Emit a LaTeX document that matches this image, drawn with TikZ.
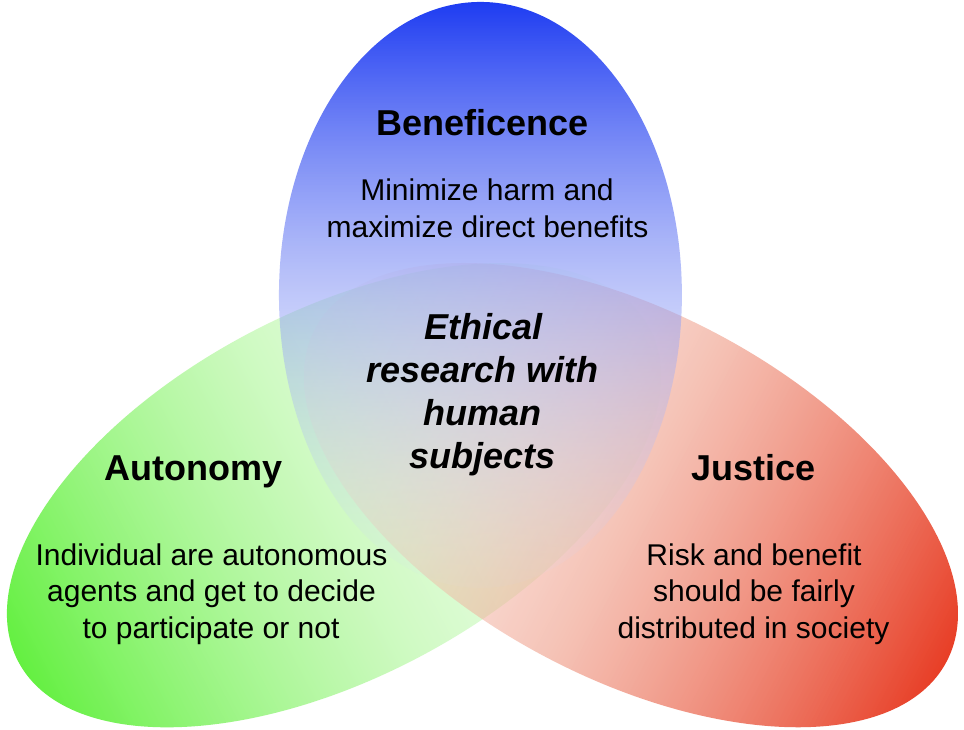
\documentclass[tikz,border=0pt]{standalone}
\usepackage{fontspec}
\setmainfont{Liberation Sans}
\usetikzlibrary{fadings}
\definecolor{bTop}{RGB}{30,60,242}
\definecolor{bMid}{RGB}{140,155,246}
\definecolor{bBot}{RGB}{215,222,255}
\definecolor{gOut}{RGB}{100,240,65}
\definecolor{gMid}{RGB}{180,248,160}
\definecolor{gIn}{RGB}{225,252,220}
\definecolor{rOut}{RGB}{232,62,38}
\definecolor{rMid}{RGB}{240,160,140}
\definecolor{rIn}{RGB}{248,215,205}
\tikzfading[name=fadeBlue, top color=transparent!0, bottom color=transparent!95, middle color=transparent!45]
\tikzfading[name=fadeGreen, left color=transparent!0, right color=transparent!85, middle color=transparent!38]
\tikzfading[name=fadeRed, left color=transparent!85, right color=transparent!0, middle color=transparent!38]
\begin{document}
\begin{tikzpicture}[x=1pt,y=-1pt,
  title/.style={font=\bfseries\fontsize{36}{43}\selectfont, anchor=base, inner sep=0pt},
  core/.style={font=\bfseries\itshape\fontsize{36}{43}\selectfont, anchor=base, inner sep=0pt},
  body/.style={font=\fontsize{30}{36}\selectfont, anchor=base, inner sep=0pt}]
\fill[white] (0,0) rectangle (964,730);
\useasboundingbox (0,0) rectangle (964,730);
% green (autonomy)
\begin{scope}[transform canvas={shift={(334,495)},rotate=27.8}]
  \shade[left color=gOut, right color=gIn, middle color=gMid, path fading=fadeGreen]
    (0,0) ellipse [x radius=357, y radius=183];
\end{scope}
% red (justice)
\begin{scope}[transform canvas={shift={(631,495)},rotate=-27.8}]
  \shade[left color=rIn, right color=rOut, middle color=rMid, path fading=fadeRed]
    (0,0) ellipse [x radius=357, y radius=183];
\end{scope}
% blue (beneficence)
\shade[top color=bTop, bottom color=bBot, middle color=bMid, path fading=fadeBlue]
  (480.5,295) ellipse [x radius=201.5, y radius=293];

\node[title] (ben) at (482.5,136) {Beneficence};
\node[body] (ben1) at (487,201) {Minimize harm and};
\node[body] (ben2) at (487.5,237) {maximize direct benefits};

\node[core] (c1) at (483.5,339) {Ethical};
\node[core] (c2) at (482.5,382) {research with};
\node[core] (c3) at (482.5,425) {human};
\node[core] (c4) at (482.5,468) {subjects};

\node[title] (aut) at (193.5,480) {Autonomy};
\node[body] (aut1) at (211.5,565) {Individual are autonomous};
\node[body] (aut2) at (211.5,601) {agents and get to decide};
\node[body] (aut3) at (211,638) {to participate or not};

\node[title] (jus) at (753.5,480) {Justice};
\node[body] (jus1) at (754,565) {Risk and benefit};
\node[body] (jus2) at (754,601) {should be fairly};
\node[body] (jus3) at (753.5,638) {distributed in society};
\end{tikzpicture}
\end{document}
